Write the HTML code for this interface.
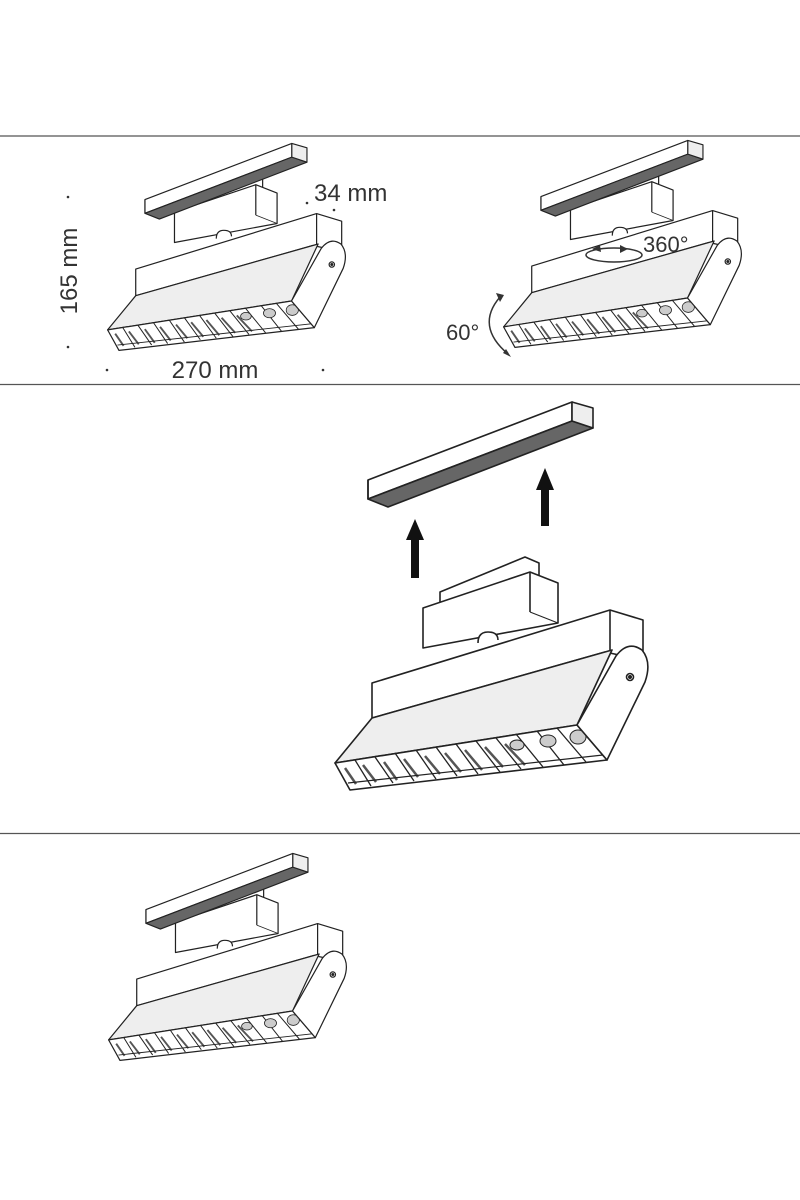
<!DOCTYPE html>
<html><head><meta charset="utf-8"><style>
html,body{margin:0;padding:0;background:#fff;}
svg{display:block;}
text{font-family:"Liberation Sans",Arial,sans-serif;fill:#333;}
</style></head><body>
<svg width="800" height="1200" viewBox="0 0 800 1200" xmlns="http://www.w3.org/2000/svg">
<defs>
<g id="rail" stroke="#222" stroke-width="1.6" stroke-linejoin="round">
  <polygon points="368,480 572,402 572,421 368,499" fill="#fff"/>
  <polygon points="368,499 572,421 593,428 388,507" fill="#666"/>
  <polygon points="572,402 593,408 593,428 572,421" fill="#eee"/>
  <line x1="368" y1="480" x2="368" y2="499"/>
</g>
<g id="lum" stroke="#222" stroke-width="1.6" stroke-linejoin="round">
  <polygon points="440,606 440,592 525,557 539,563 539,578" fill="#fff"/>
  <polygon points="423,608 530,572 558,583 558,623 423,648" fill="#fff"/>
  <line x1="530" y1="572" x2="530" y2="612"/>
  <line x1="530" y1="612" x2="558" y2="623" stroke-width="1"/>
  <path d="M478,643 Q478,632 488,632 Q498,632 498,640" fill="#fff"/>
  <polygon points="372,683 610,610 643,620 643,660 605,652 372,718" fill="#fff"/>
  <line x1="610" y1="610" x2="610" y2="652"/>
  <polygon points="372,718 612,650 577,725 335,763" fill="#eee"/>
  <polygon points="335,763 577,725 607,760 350,790" fill="#fff"/>
  <g stroke-width="1.3">
    <line x1="355" y1="760" x2="371" y2="786"/>
    <line x1="375" y1="757" x2="393" y2="783"/>
    <line x1="395" y1="753" x2="414" y2="781"/>
    <line x1="416" y1="750" x2="436" y2="779"/>
    <line x1="436" y1="747" x2="457" y2="776"/>
    <line x1="456" y1="744" x2="478" y2="774"/>
    <line x1="476" y1="741" x2="500" y2="772"/>
    <line x1="496" y1="738" x2="521" y2="769"/>
    <line x1="516" y1="734" x2="543" y2="767"/>
    <line x1="537" y1="731" x2="564" y2="765"/>
    <line x1="557" y1="728" x2="586" y2="762"/>
  </g>
  <g stroke="#555" stroke-width="2.5">
    <line x1="345" y1="768" x2="356" y2="784"/>
    <line x1="363" y1="765" x2="376" y2="782"/>
    <line x1="384" y1="762" x2="397" y2="780"/>
    <line x1="404" y1="759" x2="418" y2="777"/>
    <line x1="425" y1="756" x2="440" y2="774"/>
    <line x1="445" y1="753" x2="461" y2="772"/>
    <line x1="465" y1="750" x2="482" y2="770"/>
    <line x1="485" y1="747" x2="503" y2="767"/>
    <line x1="505" y1="744" x2="525" y2="765"/>
  </g>
  <ellipse cx="517" cy="745" rx="7" ry="5" fill="#ccc" stroke-width="1"/>
  <ellipse cx="548" cy="741" rx="8" ry="6" fill="#ccc" stroke-width="1"/>
  <ellipse cx="578" cy="737" rx="8" ry="7" fill="#ccc" stroke-width="1"/>
  <line x1="348" y1="783" x2="603" y2="755" stroke-width="1.2"/>
  <path d="M577,725 L616,656 Q628,640 642,650 Q652,662 645,682 L607,760 Z" fill="#fff"/>
  <circle cx="630" cy="677" r="3.5" fill="#fff"/>
  <circle cx="630" cy="677" r="1.2" fill="#222"/>
</g>
<g id="unit">
  <use href="#lum" transform="translate(-147,-250) scale(0.76)"/>
  <use href="#rail" transform="translate(-120,-146) scale(0.72)"/>
</g>
</defs>

<line x1="0" y1="136" x2="800" y2="136" stroke="#555" stroke-width="1.3"/>
<line x1="0" y1="384.5" x2="800" y2="384.5" stroke="#555" stroke-width="1.3"/>
<line x1="0" y1="833.5" x2="800" y2="833.5" stroke="#555" stroke-width="1.3"/>

<use href="#unit"/>
<text x="0" y="0" font-size="24" transform="translate(77,271) rotate(-90)" text-anchor="middle">165 mm</text>
<circle cx="68" cy="197" r="1.3" fill="#333"/>
<circle cx="68" cy="347" r="1.3" fill="#333"/>
<text x="215" y="378" font-size="24" text-anchor="middle">270 mm</text>
<circle cx="107" cy="370" r="1.3" fill="#333"/>
<circle cx="323" cy="370" r="1.3" fill="#333"/>
<text x="314" y="201" font-size="24">34 mm</text>
<circle cx="307" cy="203" r="1.3" fill="#333"/>
<circle cx="334" cy="210" r="1.3" fill="#333"/>

<use href="#unit" transform="translate(396,-3)"/>
<ellipse cx="614" cy="255" rx="28" ry="7" fill="none" stroke="#333" stroke-width="1.5"/>
<polygon points="600,245 592,249 601,252" fill="#333"/>
<polygon points="620,245 628,249 620,253" fill="#333"/>
<text x="643" y="252" font-size="22">360°</text>
<text x="446" y="340" font-size="22">60°</text>
<path d="M500,297 Q475,326 508,354" fill="none" stroke="#333" stroke-width="1.5"/>
<polygon points="496,293 504,295 500,302" fill="#333"/>
<polygon points="503,353 511,357 506,349" fill="#333"/>

<use href="#rail"/>
<use href="#lum"/>
<g fill="#111">
  <rect x="411" y="538" width="8" height="40"/>
  <polygon points="406,540 424,540 415,519"/>
  <rect x="541" y="488" width="8" height="38"/>
  <polygon points="536,490 554,490 545,468"/>
</g>

<use href="#unit" transform="translate(1,710)"/>
</svg>
</body></html>
